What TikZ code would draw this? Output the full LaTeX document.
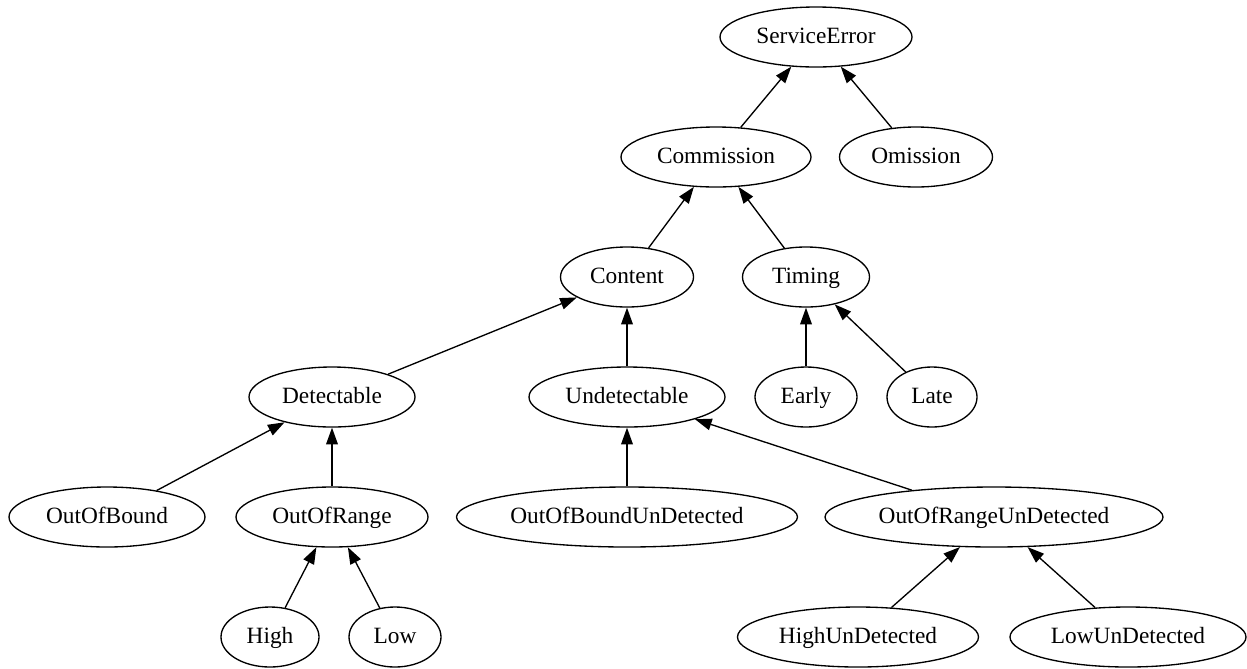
\documentclass[tikz,border=0pt]{standalone}
\usepackage{fontspec}
\setmainfont{Liberation Serif}
\usetikzlibrary{shapes.geometric,arrows.meta}
\begin{document}
\begin{tikzpicture}[x=0.6pt,y=-0.6pt,
  cls/.style={draw,ellipse,line width=0.8pt,inner sep=0pt,minimum height=36pt,
    font=\fontsize{14}{16}\selectfont,text height=10.2pt,text depth=3pt},
  isa/.style={-{Triangle[length=10pt,width=7pt]},line width=0.8pt}]
\useasboundingbox (0,0) rectangle (1247,668);
% rank 1
\node[cls,minimum width=115.2pt] (serr) at (816,37) {ServiceError};
% rank 2
\node[cls,minimum width=114pt] (comm) at (716,157) {Commission};
\node[cls,minimum width=91.8pt] (omis) at (916,157) {Omission};
% rank 3
\node[cls,minimum width=79.8pt] (cont) at (627,277) {Content};
\node[cls,minimum width=76.2pt] (timg) at (806,277) {Timing};
% rank 4
\node[cls,minimum width=99.6pt] (det) at (332,397) {Detectable};
\node[cls,minimum width=117.6pt] (undet) at (627,397) {Undetectable};
\node[cls,minimum width=61.2pt] (early) at (806,397) {Early};
\node[cls,minimum width=54pt] (late) at (932,397) {Late};
% rank 5
\node[cls,minimum width=117.6pt] (oob) at (107,517) {OutOfBound};
\node[cls,minimum width=115.2pt] (oor) at (332,517) {OutOfRange};
\node[cls,minimum width=204.6pt] (oobu) at (627,517) {OutOfBoundUnDetected};
\node[cls,minimum width=202.8pt] (ooru) at (994,517) {OutOfRangeUnDetected};
% rank 6
\node[cls,minimum width=58.8pt] (high) at (270,637) {High};
\node[cls,minimum width=55.2pt] (low) at (395,637) {Low};
\node[cls,minimum width=144.6pt] (highu) at (858,637) {HighUnDetected};
\node[cls,minimum width=141.6pt] (lowu) at (1128,637) {LowUnDetected};
% generalisation edges, child to parent
\draw[isa] (comm) -- (serr);
\draw[isa] (omis) -- (serr);
\draw[isa] (cont) -- (comm);
\draw[isa] (timg) -- (comm);
\draw[isa] (det) -- (cont);
\draw[isa] (undet) -- (cont);
\draw[isa] (early) -- (timg);
\draw[isa] (late) -- (timg);
\draw[isa] (oob) -- (det);
\draw[isa] (oor) -- (det);
\draw[isa] (oobu) -- (undet);
\draw[isa] (ooru) -- (undet);
\draw[isa] (high) -- (oor);
\draw[isa] (low) -- (oor);
\draw[isa] (highu) -- (ooru);
\draw[isa] (lowu) -- (ooru);
\end{tikzpicture}
\end{document}
